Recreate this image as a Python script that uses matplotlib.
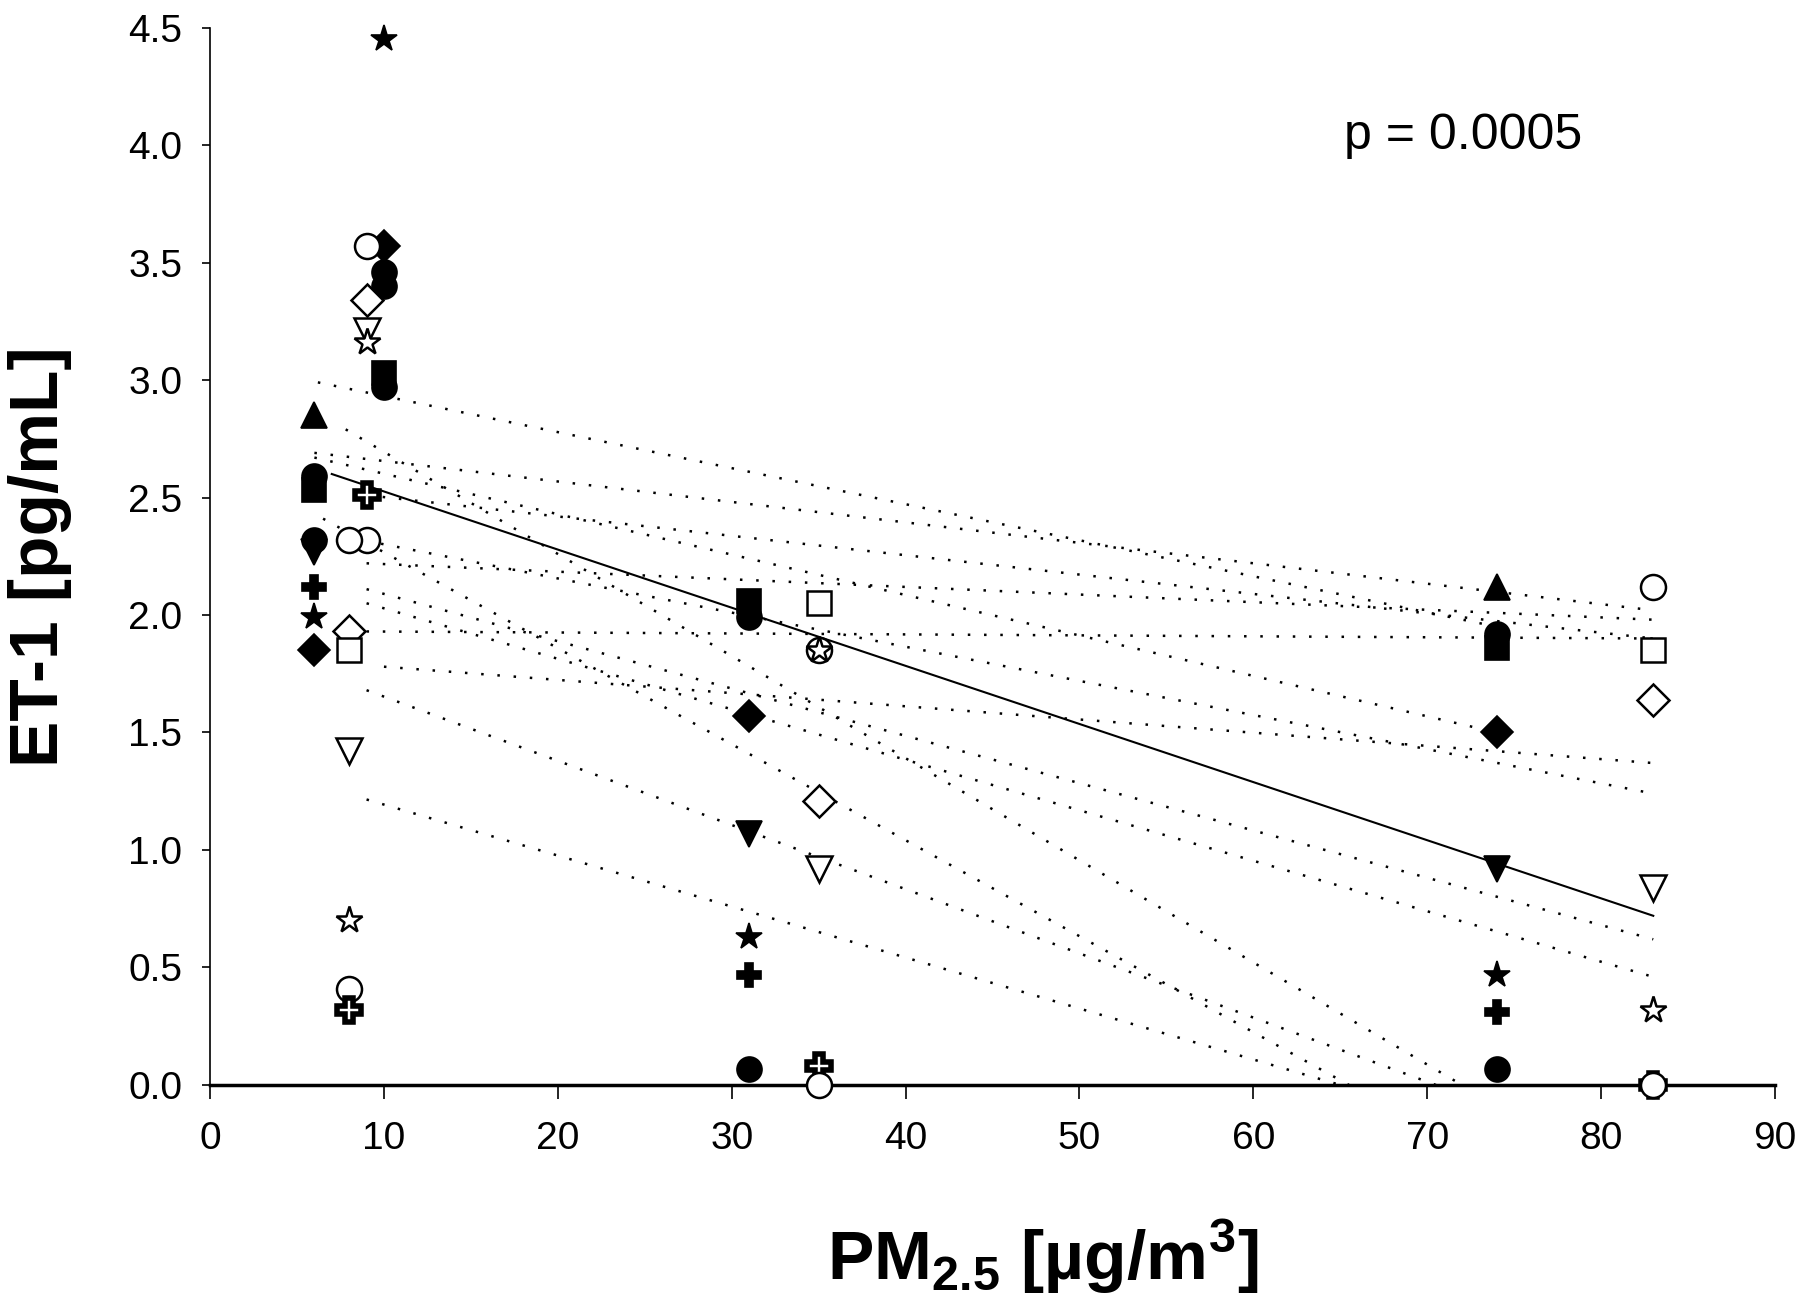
import matplotlib
matplotlib.use('Agg')
import matplotlib.pyplot as plt

plt.rcParams['font.family'] = ['Liberation Sans', 'DejaVu Sans']
plt.rcParams['mathtext.fontset'] = 'custom'
plt.rcParams['mathtext.rm'] = 'Liberation Sans'
plt.rcParams['mathtext.bf'] = 'Liberation Sans:bold'

# filled symbols
filled_x = [10, 10, 10, 10, 10, 10,
            6, 6, 6, 6, 6, 6, 6, 6,
            31, 31, 31, 31, 31, 31, 31,
            74, 74, 74, 74, 74, 74, 74, 74]
filled_y = [4.45, 3.57, 3.46, 3.40, 3.03, 2.97,
            2.85, 2.59, 2.53, 2.32, 2.27, 2.12, 1.99, 1.85,
            2.06, 1.99, 1.57, 1.07, 0.63, 0.47, 0.07,
            2.12, 1.92, 1.86, 1.50, 0.92, 0.47, 0.31, 0.07]
filled_m = ['*', 'D', 'o', 'o', 's', 'o',
            '^', 'o', 's', 'o', 'v', 'P', '*', 'D',
            's', 'o', 'D', 'v', '*', 'P', 'o',
            '^', 'o', 's', 'D', 'v', '*', 'P', 'o']

# open symbols
open_x = [9, 9, 9, 9, 9, 9,
          8, 8, 8, 8, 8, 8, 8,
          35, 35, 35, 35, 35, 35, 35,
          83, 83, 83, 83, 83, 83, 83]
open_y = [3.57, 3.34, 3.21, 3.16, 2.32, 2.51,
          2.32, 1.93, 1.85, 1.42, 0.70, 0.41, 0.32,
          2.05, 1.85, 1.85, 1.21, 0.92, 0.08, 0.0,
          2.12, 1.85, 1.64, 0.84, 0.32, 0.0, 0.0]
open_m = ['o', 'D', 'v', '*', 'o', 'P',
          'o', 'D', 's', 'v', '*', 'o', 'P',
          's', 'o', '*', 'D', 'v', 'P', 'o',
          'o', 's', 'D', 'v', '*', 'P', 'o']

# individual regression lines (start / end)
dot_x0 = [6.2, 7.8, 6.0, 6.0, 6.5, 9.0, 9.0, 9.0, 9.0, 9.0, 10.0, 9.0, 9.0, 8.0]
dot_y0 = [2.99, 2.79, 2.69, 2.67, 2.41, 2.51, 2.22, 2.11, 2.05, 1.93, 1.78, 1.68, 1.215, 2.33]
dot_x1 = [74, 72, 83, 74, 65.5, 83, 83, 83, 83, 83, 83, 70.5, 65, 83]
dot_y1 = [1.95, 0.0, 2.02, 1.50, 0.0, 1.90, 1.98, 0.62, 0.46, 1.90, 1.37, 0.0, 0.0, 1.24]

# overall regression
reg_x = [7, 83]
reg_y = [2.60, 0.72]

ms = {'o': 18, 's': 17, '^': 19, 'v': 19, 'D': 16, '*': 20, 'P': 17}

fig = plt.figure(figsize=(18, 13.11), dpi=100)
ax = fig.add_axes([0.1167, 0.1724, 0.8694, 0.8066])

for x0, y0, x1, y1 in zip(dot_x0, dot_y0, dot_x1, dot_y1):
    ax.plot([x0, x1], [y0, y1], color='k', lw=1.8, ls=(0, (1, 5.5)), dash_capstyle='butt', zorder=2)

ax.plot(reg_x, reg_y, color='k', lw=1.5, zorder=3)

for x, y, m in zip(filled_x, filled_y, filled_m):
    ax.plot(x, y, marker=m, ms=ms[m], mfc='k', mec='k', mew=1.2, ls='none', clip_on=False, zorder=5)
for x, y, m in zip(open_x, open_y, open_m):
    mew = 4.0 if m == 'P' else 1.8
    ax.plot(x, y, marker=m, ms=ms[m], mfc='white', mec='k', mew=mew, ls='none', clip_on=False, zorder=5)

ax.set_xlim(0, 90)
ax.set_ylim(0, 4.5)
ax.set_xticks(range(0, 91, 10))
ax.set_yticks([i * 0.5 for i in range(10)])
ax.set_yticklabels([f'{i * 0.5:.1f}' for i in range(10)])
ax.spines['top'].set_visible(False)
ax.spines['right'].set_visible(False)
ax.spines['bottom'].set_linewidth(2.5)
ax.spines['left'].set_linewidth(1.2)
ax.tick_params(axis='x', direction='out', length=10, width=1.2, labelsize=28, pad=16)
ax.tick_params(axis='y', direction='out', length=6, width=1.2, labelsize=28, pad=14)

ax.text(65.2, 4.04, 'p = 0.0005', fontsize=36, ha='left', va='center')

fig.text(0.0222, 0.575, 'ET-1 [pg/mL]', fontsize=50, fontweight='bold', rotation=90, ha='center', va='center')
fig.text(0.579, 0.0236, r'PM$_{\mathbf{2.5}}$ [µg/m$^{\mathbf{3}}$]', fontsize=50, fontweight='bold', ha='center', va='baseline')

fig.savefig('out.png', dpi=100)
